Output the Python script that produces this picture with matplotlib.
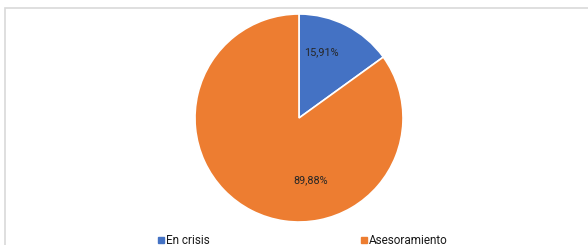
import matplotlib.pyplot as plt
from matplotlib.patches import Rectangle

plt.rcParams['font.family'] = ['Roboto', 'DejaVu Sans']

categories = ['En crisis', 'Asesoramiento']
values = [15.91, 89.88]
colors = ['#4472C4', '#ED7D31']

fig = plt.figure(figsize=(5.88, 2.45), dpi=100)

# light frame of the chart area
fig.patches.append(Rectangle((5 / 588, -0.1), 1.2, (245 - 8.5) / 245 + 0.1,
                             transform=fig.transFigure, fill=False,
                             edgecolor='#d9d9d9', linewidth=1.2))

ax = fig.add_axes([195 / 588, (245 - 222) / 245, 208 / 588, 208 / 245])
ax.pie(values, colors=colors, startangle=90, counterclock=False, radius=1,
       wedgeprops=dict(edgecolor='white', linewidth=1.2))
ax.set_xlim(-1, 1)
ax.set_ylim(-1, 1)
ax.set_aspect('equal')
ax.axis('off')

label_pos = [(0.215, 0.63), (0.11, -0.595)]
for v, (x, y) in zip(values, label_pos):
    ax.text(x, y, f'{v:.2f}%'.replace('.', ','), ha='center', va='center',
            fontsize=7.8, color='#262626')

# legend along the bottom
legend_x = [158, 361]
for name, c, lx in zip(categories, colors, legend_x):
    fig.patches.append(Rectangle((lx / 588, (245 - 243) / 245), 6 / 588, 6 / 245,
                                 transform=fig.transFigure, color=c))
    fig.text((lx + 8) / 588, (245 - 240) / 245, name, ha='left', va='center',
             fontsize=8.5, color='#1a1a1a')

fig.savefig('out.png', dpi=100)
